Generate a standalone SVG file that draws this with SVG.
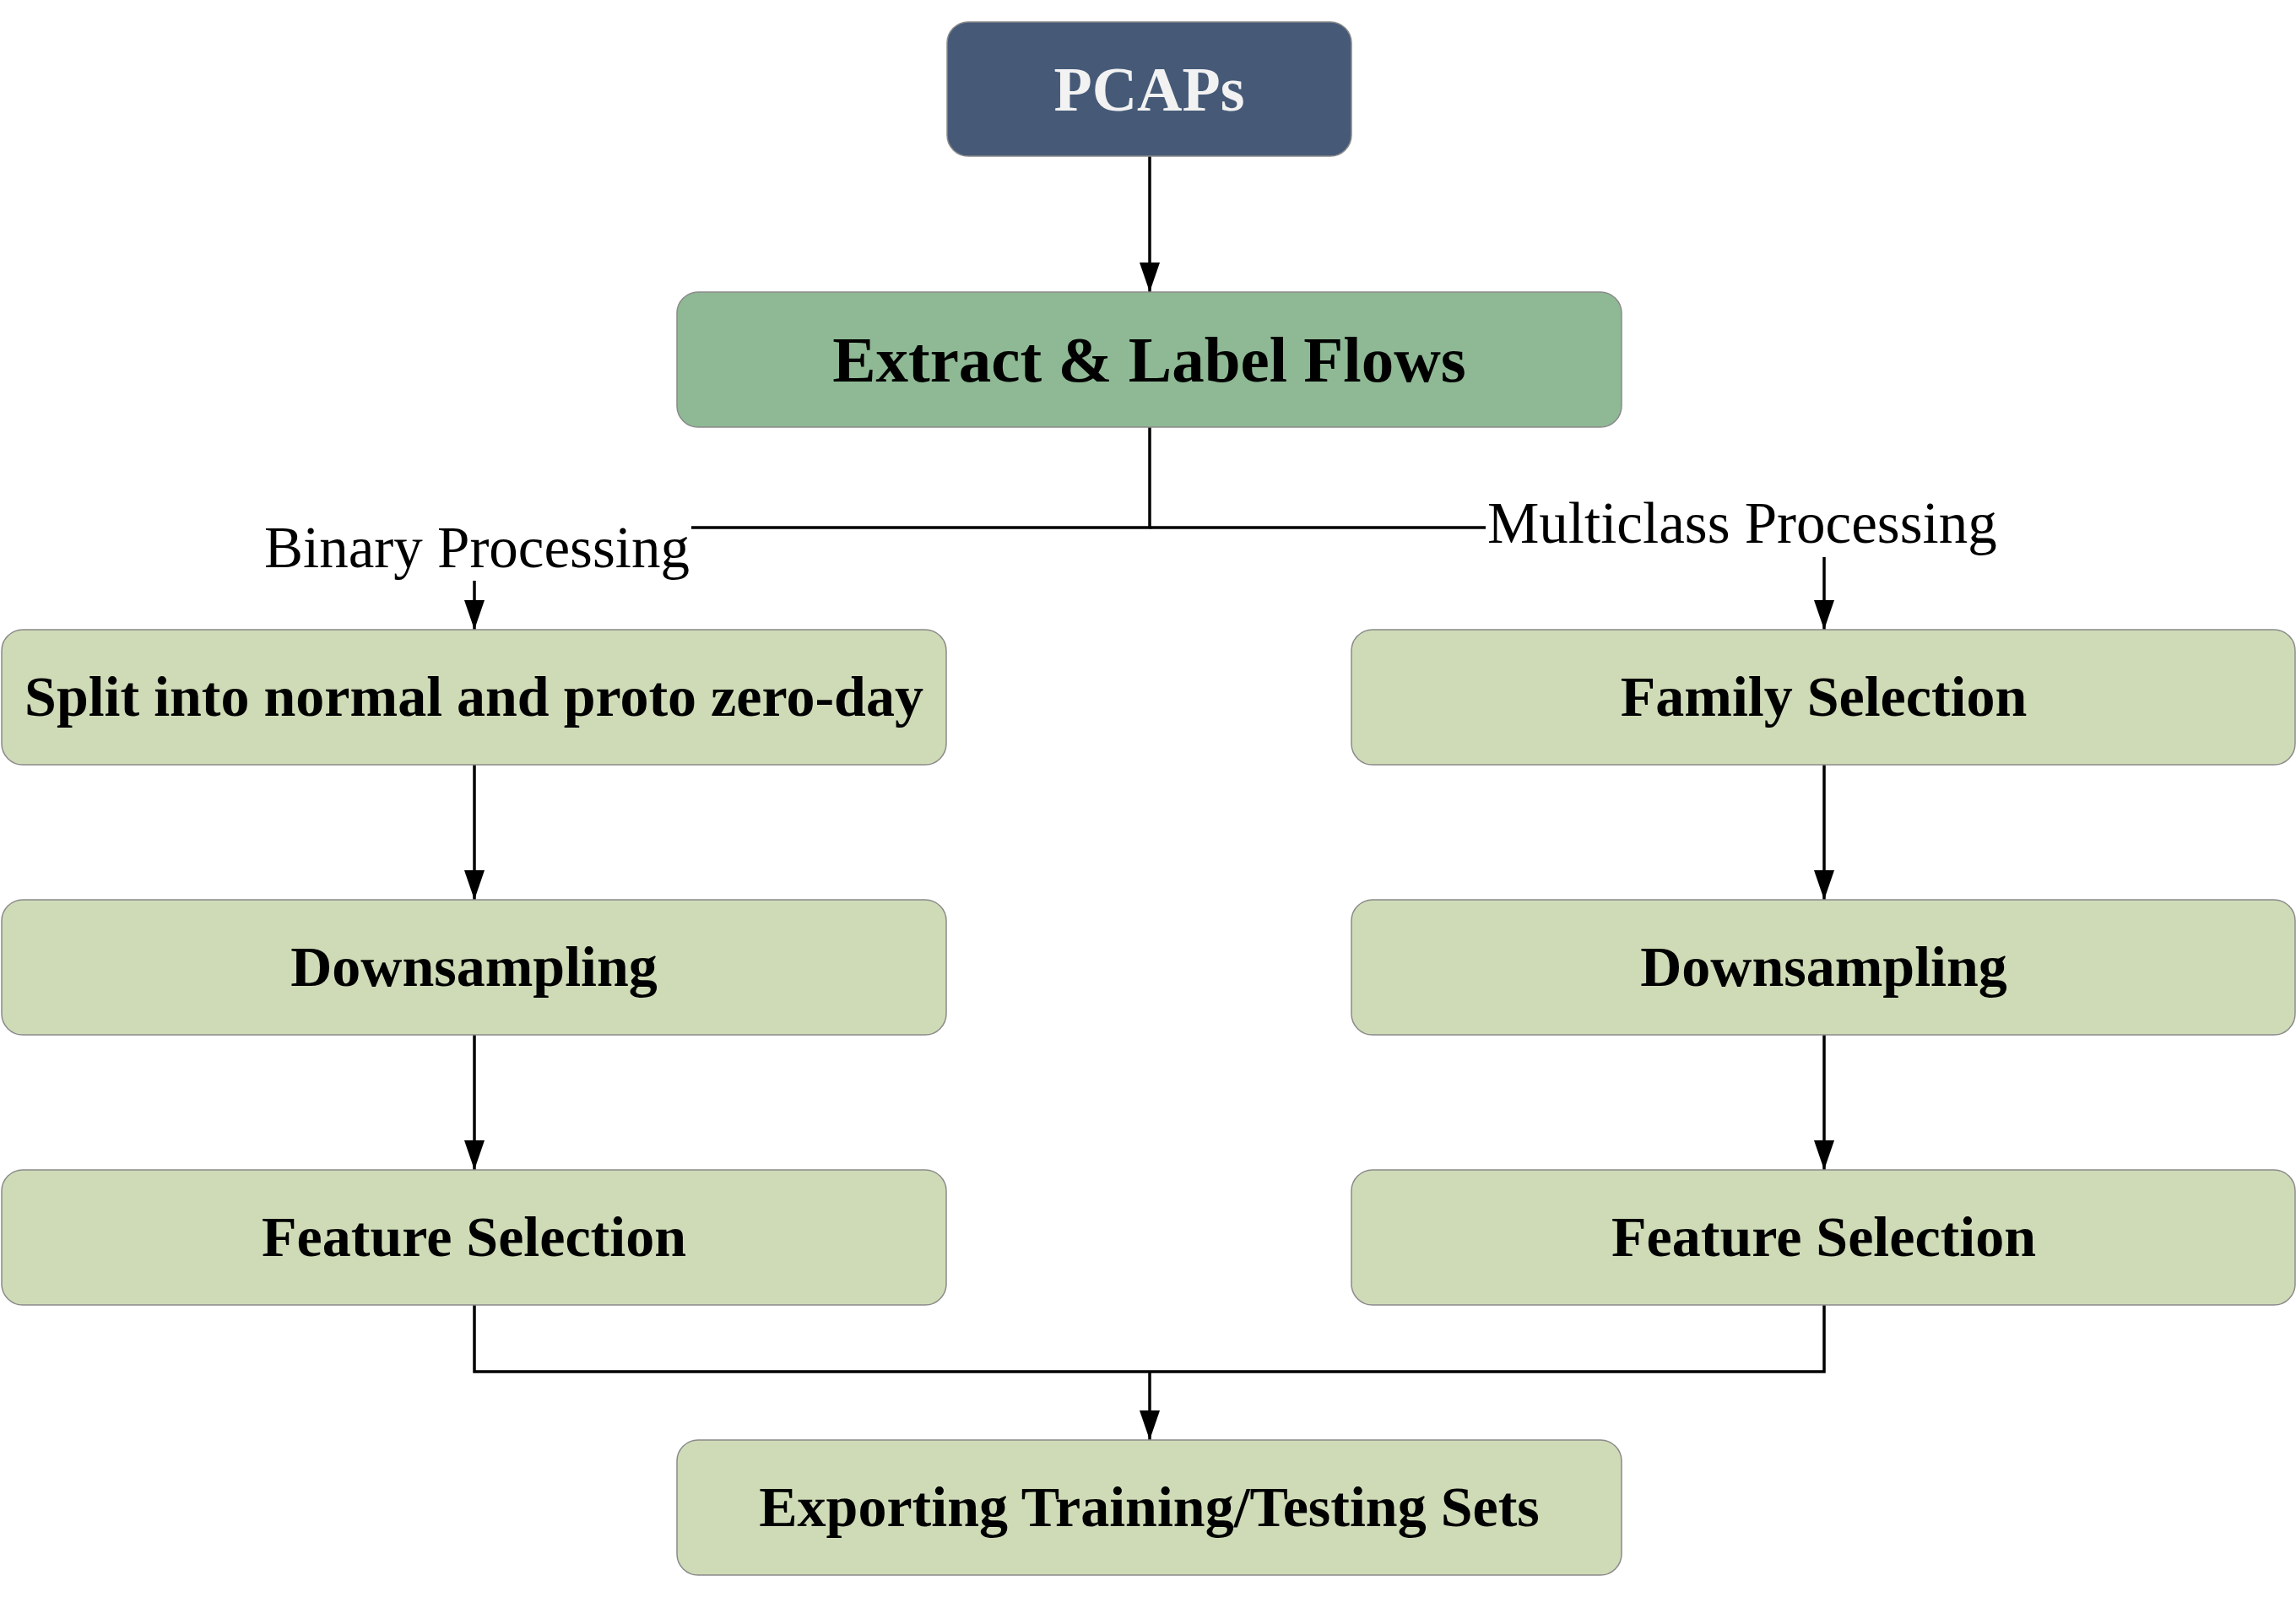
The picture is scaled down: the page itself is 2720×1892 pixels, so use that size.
<svg xmlns="http://www.w3.org/2000/svg" width="2720" height="1892" viewBox="0 0 2720 1892">
<style>
.box{stroke:#8a8a8a;stroke-width:1.5}
.dark{fill:#465a78}
.mid{fill:#8eb994}
.light{fill:#cfdbb7}
.t{font-family:"Liberation Serif","Times New Roman",serif;font-weight:bold;text-anchor:middle;fill:#000}
.lbl{font-family:"Liberation Serif","Times New Roman",serif;font-size:69px;fill:#000}
.edge{fill:none;stroke:#000;stroke-width:3.5}
</style>
<defs>
<marker id="ah" viewBox="0 0 35 24" refX="35" refY="12" markerWidth="35" markerHeight="24" markerUnits="userSpaceOnUse" orient="auto">
<path d="M0,0 L35,12 L0,24 z" fill="#000"/>
</marker>
</defs>
<rect width="2720" height="1892" fill="#fff"/>
<g id="connectors">
<path class="edge" d="M1362,185 V346" marker-end="url(#ah)"/>
<path class="edge" d="M1362,506 V625 H819"/>
<path class="edge" d="M1362,625 H1760"/>
<path class="edge" d="M562,688 V746" marker-end="url(#ah)"/>
<path class="edge" d="M2161,660 V746" marker-end="url(#ah)"/>
<path class="edge" d="M562,906 V1066" marker-end="url(#ah)"/>
<path class="edge" d="M562,1226 V1386" marker-end="url(#ah)"/>
<path class="edge" d="M2161,906 V1066" marker-end="url(#ah)"/>
<path class="edge" d="M2161,1226 V1386" marker-end="url(#ah)"/>
<path class="edge" d="M562,1546 V1625 H2161 V1546"/>
<path class="edge" d="M1362,1625 V1706" marker-end="url(#ah)"/>
<text class="lbl" x="817" y="672" text-anchor="end">Binary Processing</text>
<text class="lbl" x="1762" y="643" text-anchor="start">Multiclass Processing</text>
</g>
<g id="pcaps">
<rect class="box dark" x="1122" y="26" width="479" height="159" rx="25"/>
<text class="t" x="1361.5" y="131" font-size="74" style="fill:#f2f2f2">PCAPs</text>
</g>
<g id="extract">
<rect class="box mid" x="802" y="346" width="1119" height="160" rx="25"/>
<text class="t" x="1361.5" y="452" font-size="77">Extract &amp; Label Flows</text>
</g>
<g id="split">
<rect class="box light" x="2" y="746" width="1119" height="160" rx="25"/>
<text class="t" x="561.5" y="848" font-size="68">Split into normal and proto zero-day</text>
</g>
<g id="family">
<rect class="box light" x="1601" y="746" width="1118" height="160" rx="25"/>
<text class="t" x="2160.5" y="848" font-size="68">Family Selection</text>
</g>
<g id="down-left">
<rect class="box light" x="2" y="1066" width="1119" height="160" rx="25"/>
<text class="t" x="561.5" y="1168" font-size="68">Downsampling</text>
</g>
<g id="down-right">
<rect class="box light" x="1601" y="1066" width="1118" height="160" rx="25"/>
<text class="t" x="2160.5" y="1168" font-size="68">Downsampling</text>
</g>
<g id="feat-left">
<rect class="box light" x="2" y="1386" width="1119" height="160" rx="25"/>
<text class="t" x="561.5" y="1488" font-size="68">Feature Selection</text>
</g>
<g id="feat-right">
<rect class="box light" x="1601" y="1386" width="1118" height="160" rx="25"/>
<text class="t" x="2160.5" y="1488" font-size="68">Feature Selection</text>
</g>
<g id="export">
<rect class="box light" x="802" y="1706" width="1119" height="160" rx="25"/>
<text class="t" x="1361.5" y="1808" font-size="68">Exporting Training/Testing Sets</text>
</g>
</svg>
